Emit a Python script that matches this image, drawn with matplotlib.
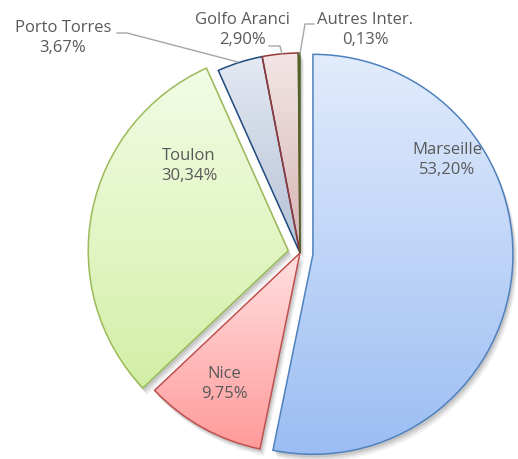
import numpy as np
import matplotlib.pyplot as plt
from matplotlib.colors import LinearSegmentedColormap
from matplotlib.patches import Wedge

ports = ['Marseille', 'Nice', 'Toulon', 'Porto Torres', 'Golfo Aranci', 'Autres Inter.']
shares = [53.20, 9.75, 30.34, 3.67, 2.90, 0.13]
labels = ['53,20%', '9,75%', '30,34%', '3,67%', '2,90%', '0,13%']
explode = [0.065, 0, 0.06, 0, 0, 0]

edge_colors = ['#4f81bd', '#c0504d', '#9bbb59', '#1f497d', '#953735', '#4f6228']
top_colors = ['#e2ecfc', '#ffe0e0', '#f3fce6', '#e4e9f2', '#f3e6e6', '#9bbb59']
bottom_colors = ['#9cbdf3', '#ff9a9a', '#d3efa6', '#b4c1d6', '#d6b3b3', '#4f6228']

fig = plt.figure(figsize=(5.18, 4.59), dpi=100)
ax = fig.add_axes([0, 0, 1, 1])

wedges, _ = ax.pie(shares, startangle=90, counterclock=False, explode=explode,
                   wedgeprops=dict(linewidth=1.1))
ax.set_aspect('auto')
ax.axis('off')

grad = np.linspace(0, 1, 256).reshape(-1, 1)
for w, ec, c0, c1 in zip(wedges, edge_colors, top_colors, bottom_colors):
    # soft shadow
    for k, a in [(0.035, 0.06), (0.025, 0.08), (0.015, 0.10)]:
        sh = Wedge((w.center[0] + k * 0.6, w.center[1] - k), w.r, w.theta1, w.theta2,
                   facecolor='#000000', edgecolor='none', alpha=a, zorder=0)
        ax.add_patch(sh)
    w.set_facecolor('none')
    w.set_edgecolor(ec)
    w.set_zorder(3)
    x0, y0, x1, y1 = w.get_path().transformed(w.get_patch_transform()).get_extents().extents
    cmap = LinearSegmentedColormap.from_list('g', [c0, c1])
    im = ax.imshow(grad, cmap=cmap, extent=[x0, x1, y0, y1], origin='upper',
                   aspect='auto', zorder=2, interpolation='bilinear')
    im.set_clip_path(w)

# center of the pie at pixel (300, 253), radius 200 px
ax.set_xlim(-300 / 200, 218 / 200)
ax.set_ylim(-(459 - 253) / 200, 253 / 200)

tc = '#595959'
fs = 12
fam = 'Open Sans'


def px(x, y):
    return (x - 300) / 200, (253 - y) / 200


label_pos = {0: (447, 160), 1: (224, 384), 2: (189, 166),
             3: (63, 38), 4: (242, 30), 5: (365, 30)}
for i, (x, y) in label_pos.items():
    ax.text(*px(x, y), ports[i] + '\n' + labels[i], ha='center', va='center',
            color=tc, fontsize=fs, family=fam, linespacing=1.3, zorder=5)

# leader lines
lc = '#a6a6a6'
for pts in [[(117, 33), (127, 33), (238, 62)],
            [(269, 46), (280, 46), (282, 54)],
            [(314, 24), (305, 24), (300, 54)]]:
    xs, ys = zip(*[px(*p) for p in pts])
    ax.plot(xs, ys, color=lc, lw=1, zorder=4)

fig.savefig('out.png', dpi=100)
